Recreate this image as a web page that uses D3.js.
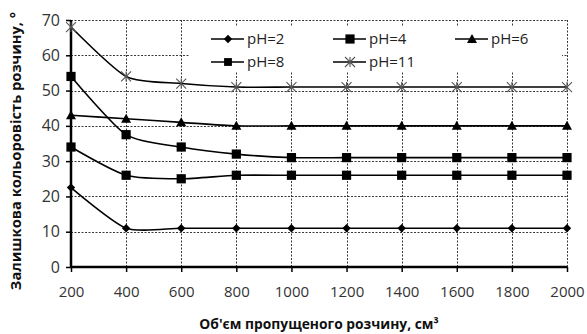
<!DOCTYPE html>
<html>
<head>
<meta charset="utf-8">
<script src="https://cdn.jsdelivr.net/npm/d3@7"></script>
<style>
  html, body { margin: 0; padding: 0; background: #fff; }
  svg { display: block; }
  text { font-family: "Open Sans", "Noto Sans", sans-serif; }
</style>
</head>
<body>
<svg id="chart" width="587" height="334"></svg>
<script>
// Volume of passed solution, cm³
const volumes = [200, 400, 600, 800, 1000, 1200, 1400, 1600, 1800, 2000];
// Residual colour of the solution, degrees, for each pH
const ph2  = [22.5, 11, 11, 11, 11, 11, 11, 11, 11, 11];
const ph4  = [34, 26, 25, 26, 26, 26, 26, 26, 26, 26];
const ph6  = [43, 42, 41, 40, 40, 40, 40, 40, 40, 40];
const ph8  = [54, 37.5, 34, 32, 31, 31, 31, 31, 31, 31];
const ph11 = [68, 54, 52, 51, 51, 51, 51, 51, 51, 51];
const seriesNames = ["pH=2", "pH=4", "pH=6", "pH=8", "pH=11"];
const yTicks = [0, 10, 20, 30, 40, 50, 60, 70];

const series = [
  { name: seriesNames[0], values: ph2,  marker: "diamond" },
  { name: seriesNames[1], values: ph4,  marker: "square" },
  { name: seriesNames[2], values: ph6,  marker: "triangle" },
  { name: seriesNames[3], values: ph8,  marker: "square" },
  { name: seriesNames[4], values: ph11, marker: "star" }
];

const svg = d3.select("#chart");
const plotL = 71, plotR = 567, plotT = 20, plotB = 267;

const x = d3.scaleLinear().domain([200, 2000]).range([plotL, plotR]);
const y = d3.scaleLinear().domain([0, 70]).range([plotB, plotT]);

// dotted grid
const grid = svg.append("g").attr("stroke", "#222").attr("stroke-width", 0.9)
  .attr("stroke-dasharray", "2,1.5");
grid.selectAll("line.h").data(yTicks.filter(d => d > 0)).join("line")
  .attr("x1", plotL).attr("x2", plotR)
  .attr("y1", d => Math.round(y(d)) + 0.5).attr("y2", d => Math.round(y(d)) + 0.5);
grid.selectAll("line.v").data(volumes.slice(1)).join("line")
  .attr("y1", plotT).attr("y2", plotB)
  .attr("x1", d => Math.round(x(d)) + 0.5).attr("x2", d => Math.round(x(d)) + 0.5);

// legend panel covering the grid
const legend = svg.append("g");
legend.append("rect").attr("x", 190).attr("y", 26).attr("width", 372).attr("height", 46)
  .attr("fill", "#fff");

// axes
const xAxis = d3.axisBottom(x).tickValues(volumes).tickSize(5).tickPadding(14)
  .tickFormat(d3.format("d"));
const yAxis = d3.axisLeft(y).tickValues(yTicks).tickSize(5).tickPadding(6);

const gx = svg.append("g").attr("transform", `translate(0,${plotB})`).call(xAxis);
const gy = svg.append("g").attr("transform", `translate(${plotL},0)`).call(yAxis);
[gx, gy].forEach(g => {
  g.select(".domain").attr("stroke", "#000").attr("stroke-width", 2.5);
  g.selectAll(".tick line").attr("stroke", "#000").attr("stroke-width", 1.5);
  g.selectAll(".tick text").attr("fill", "#333")
    .style("font-family", "'Open Sans', sans-serif");
});
gx.selectAll(".tick text").style("font-size", "15px");
gy.selectAll(".tick text").style("font-size", "16px");
gy.select(".domain").attr("d", `M0,${plotB}V${plotT}`);
gx.select(".domain").attr("d", `M${plotL},0H${plotR}`);

// markers
function drawMarker(g, type, cx, cy, scale) {
  const s = scale || 1;
  if (type === "diamond") {
    const r = 4.2 * s;
    g.append("path").attr("d", `M${cx},${cy - r}L${cx + r},${cy}L${cx},${cy + r}L${cx - r},${cy}Z`)
      .attr("fill", "#000");
  } else if (type === "square") {
    const h = 4.6 * s;
    g.append("rect").attr("x", cx - h).attr("y", cy - h).attr("width", 2 * h).attr("height", 2 * h)
      .attr("fill", "#000");
  } else if (type === "triangle") {
    const h = 5 * s;
    g.append("path").attr("d", `M${cx},${cy - h}L${cx + h},${cy + h * 0.8}L${cx - h},${cy + h * 0.8}Z`)
      .attr("fill", "#000");
  } else if (type === "star") {
    const r = 5 * s;
    g.append("path")
      .attr("d", `M${cx - r},${cy - r}L${cx + r},${cy + r}M${cx - r},${cy + r}L${cx + r},${cy - r}M${cx},${cy - r}L${cx},${cy + r}`)
      .attr("stroke", "#555").attr("stroke-width", 1.1).attr("fill", "none");
  }
}

const line = d3.line()
  .x((d, i) => x(volumes[i]))
  .y(d => y(d))
  .curve(d3.curveCardinal.tension(0.3));

series.forEach(s => {
  svg.append("path").attr("d", line(s.values))
    .attr("fill", "none").attr("stroke", "#000").attr("stroke-width", 1.6);
});
series.forEach(s => {
  const g = svg.append("g");
  s.values.forEach((v, i) => drawMarker(g, s.marker, x(volumes[i]), y(v)));
});

// legend entries
const legendPos = [[211, 39], [333, 39], [455, 39], [211, 62], [333, 62]];
series.forEach((s, i) => {
  const [lx, ly] = legendPos[i];
  legend.append("line").attr("x1", lx).attr("x2", lx + 33).attr("y1", ly).attr("y2", ly)
    .attr("stroke", "#000").attr("stroke-width", 1.6);
  drawMarker(legend, s.marker, lx + 17, ly, i === 3 ? 0.85 : 1);
  legend.append("text").attr("x", lx + 36).attr("y", ly).attr("dy", "0.35em")
    .attr("fill", "#222").style("font-size", "15px").text(s.name);
});

// axis titles
svg.append("text").attr("x", (plotL + plotR) / 2).attr("y", 329).attr("text-anchor", "middle")
  .style("font-size", "13.8px").style("font-weight", "bold").attr("fill", "#111")
  .text("Об'єм пропущеного розчину, см³");
svg.append("text")
  .attr("transform", "translate(21,151) rotate(-90)")
  .attr("text-anchor", "middle")
  .style("font-size", "14.7px").style("font-weight", "bold").attr("fill", "#111")
  .text("Залишкова кольоровість розчину, °");
</script>
</body>
</html>
